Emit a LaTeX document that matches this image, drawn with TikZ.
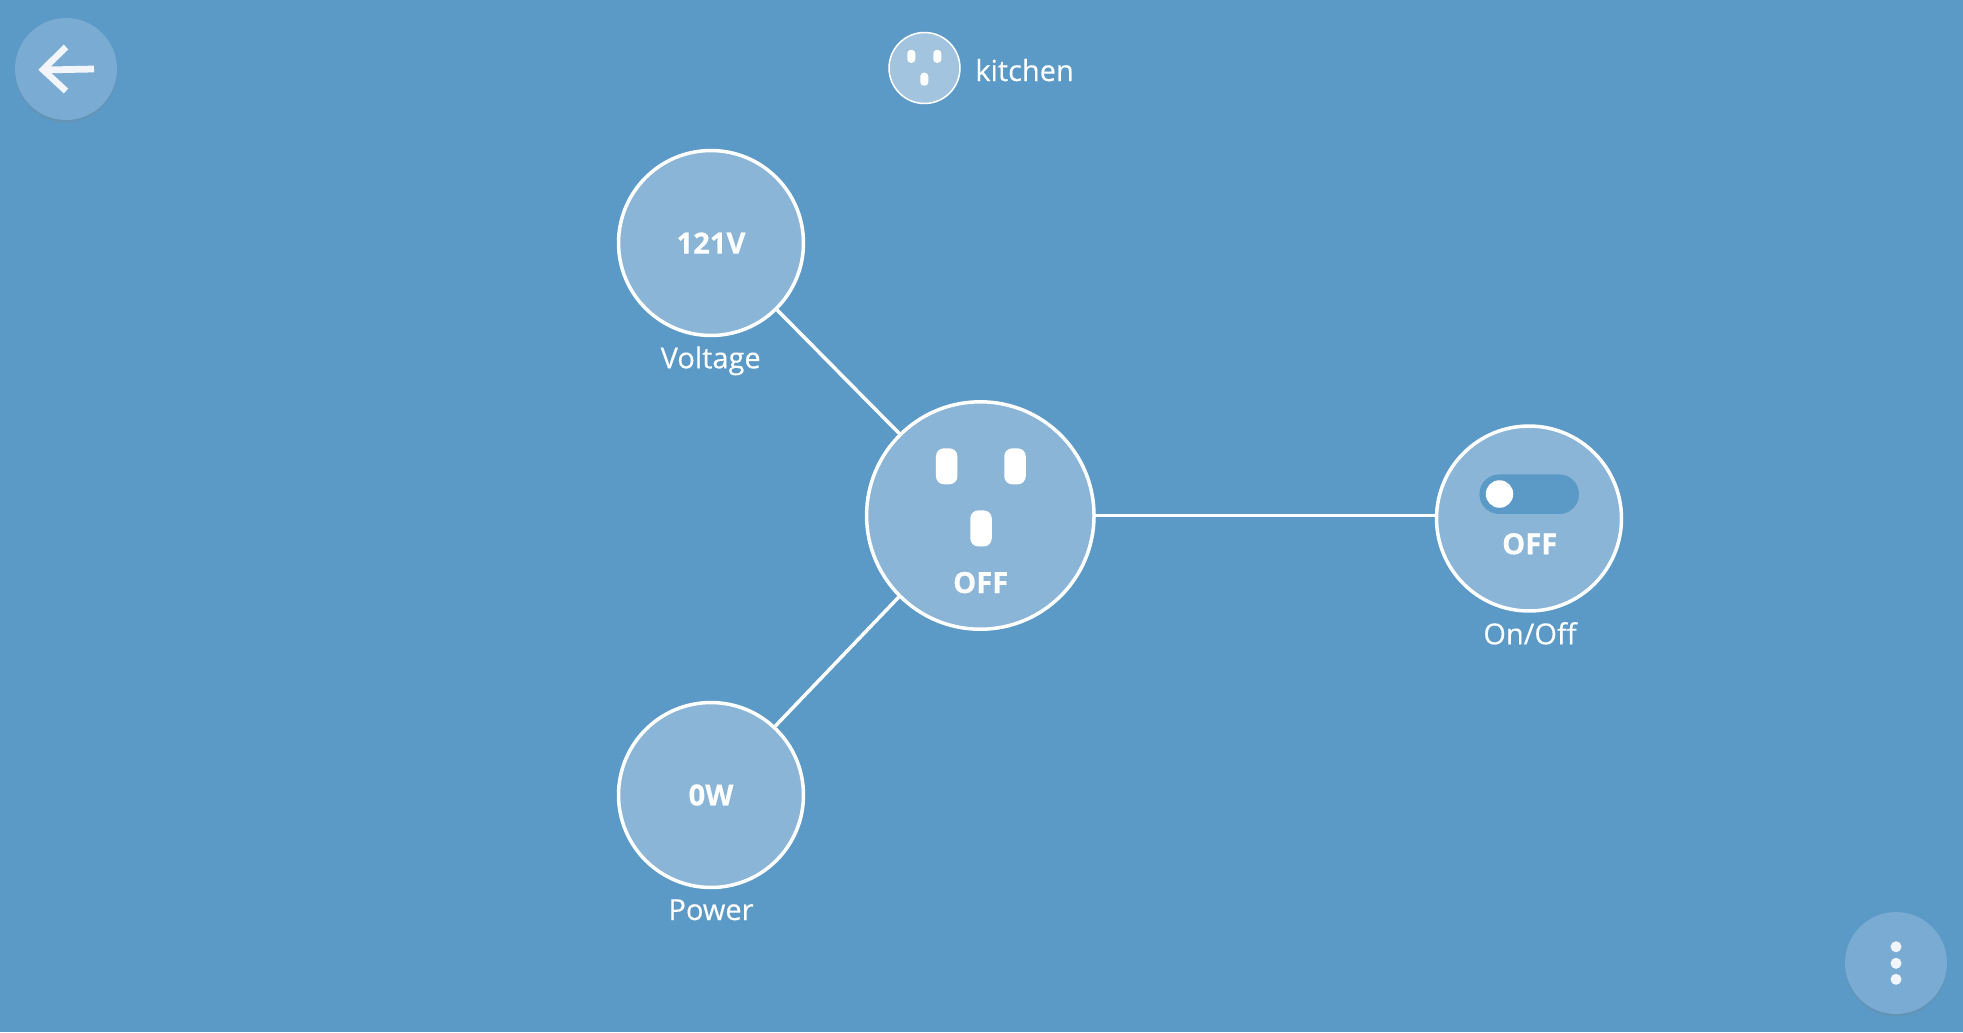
\documentclass[tikz,border=0pt]{standalone}
\usepackage{fontspec}
\setmainfont{Open Sans}
\newfontfamily\capfont[FakeBold=0.25]{Open Sans}
\newfontfamily\statefont[FakeBold=0.4]{Open Sans Bold}
\usetikzlibrary{shapes,positioning,calc,shadows}
\definecolor{bgblue}{HTML}{5B9AC6}
\definecolor{nodeblue}{HTML}{8AB5D7}
\definecolor{btnblue}{HTML}{7AACD3}
\definecolor{iconblue}{HTML}{A3C4DF}
\definecolor{btnwhite}{HTML}{F2F6FB}

\begin{document}
\begin{tikzpicture}[x=0.02cm, y=-0.02cm]
    % Styles
    \tikzstyle{gauge} = [circle, draw=white, line width=0.07cm, fill=nodeblue, text=white, inner sep=0pt, minimum size=3.7cm, font=\fontsize{16.6}{18}\statefont]
    \tikzstyle{hub} = [gauge, minimum size=4.55cm]
    \tikzstyle{badge} = [circle, draw=white, line width=0.03cm, fill=iconblue, inner sep=0pt, minimum size=1.42cm]
    \tikzstyle{button} = [circle, fill=btnblue, inner sep=0pt, minimum size=2.04cm, drop shadow={opacity=0.22, shadow xshift=0pt, shadow yshift=-0.05cm}]
    \tikzstyle{slot} = [rectangle, fill=white, rounded corners=0.16cm, inner sep=0pt, minimum width=0.43cm, minimum height=0.72cm]
    \tikzstyle{smallslot} = [rectangle, fill=white, rounded corners=0.07cm, inner sep=0pt, minimum width=0.16cm, minimum height=0.26cm]
    \tikzstyle{caption} = [anchor=base, text=white, inner sep=0pt, font=\fontsize{16.5}{18}\capfont]
    \tikzstyle{state} = [anchor=base, text=white, inner sep=0pt, font=\fontsize{16.6}{18}\statefont]
    \tikzstyle{dot} = [circle, fill=btnwhite, inner sep=0pt, minimum size=0.22cm]
    \tikzstyle{link} = [draw=white, line width=0.07cm]

    % Background
    \fill[bgblue] (0,0) rectangle (1963,1032);
    \useasboundingbox (0,0) rectangle (1963,1032);

    % Back and menu buttons
    \node[button] (back) at (66,69) {};
    \draw[btnwhite, line width=0.13cm, miter limit=4] (66,47) -- (43,69.7) -- (66,91);
    \draw[btnwhite, line width=0.135cm] (43,70) -- (94,69);
    \node[button] (menu) at (1896,963) {};
    \node[dot] (dota) at (1896,946.7) {};
    \node[dot] (dotb) at (1896,963.3) {};
    \node[dot] (dotc) at (1896,979.3) {};

    % Title
    \node[badge] (badge) at (924.5,68) {};
    \node[smallslot] (badgea) at (911.3,56.3) {};
    \node[smallslot] (badgeb) at (937.3,56.3) {};
    \node[smallslot] (badgec) at (924.3,79.2) {};
    \node[caption, anchor=base west] (title) at (975,81) {kitchen};

    % Nodes
    \node[hub] (main) at (980.3,515.5) {};
    \node[gauge] (voltage) at (711,243) {121V};
    \node[gauge] (power) at (711,795) {0W};
    \node[gauge] (onoff) at (1529,518.5) {};

    % Outlet
    \node[slot] (slota) at (946.7,466.3) {};
    \node[slot] (slotb) at (1015,466.3) {};
    \node[slot] (slotc) at (981,528.4) {};
    \node[state] (mainstate) at (980.7,593) {OFF};

    % Switch
    \node[rectangle, fill=bgblue, rounded corners=0.39cm, inner sep=0pt, minimum width=1.99cm, minimum height=0.79cm] (track) at (1529.2,494.2) {};
    \node[circle, fill=white, inner sep=0pt, minimum size=0.55cm] (knob) at (1499.5,494) {};
    \node[state] (switchstate) at (1529.7,554.3) {OFF};

    % Labels
    \node[caption] (voltagelabel) at (710.7,368.3) {Voltage};
    \node[caption] (powerlabel) at (711,920) {Power};
    \node[caption] (onofflabel) at (1530,644.3) {On/Off};

    % Links
    \draw[link] (voltage) -- (main);
    \draw[link] (power.47) -- (main.225);
    \draw[link] (main.east) -- (main.east -| onoff.west);
\end{tikzpicture}
\end{document}
